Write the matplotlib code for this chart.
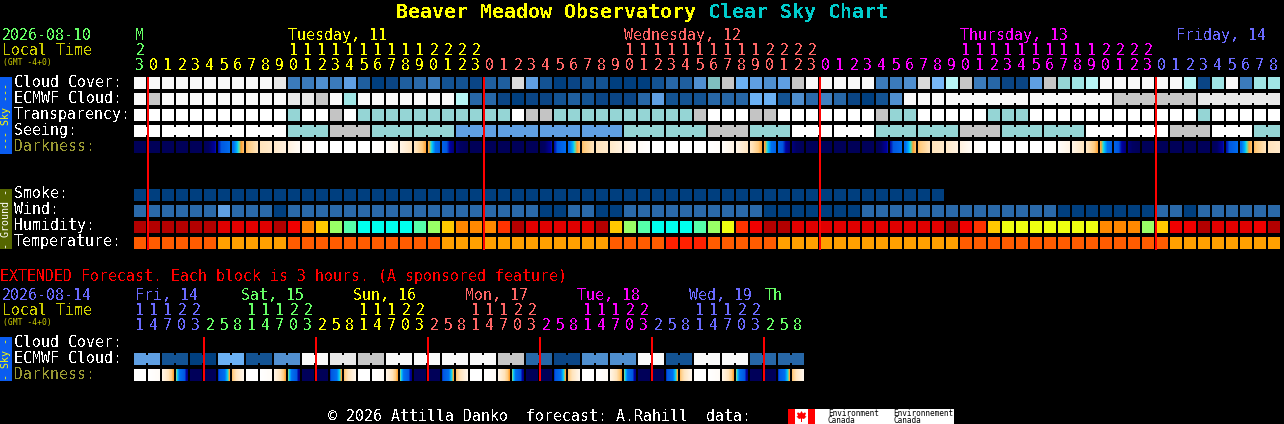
import numpy as np
import matplotlib
matplotlib.use("Agg")
import matplotlib.pyplot as plt
from matplotlib.colors import LinearSegmentedColormap

# ---------- data ----------
cloud_cover = [0,0,0,0,0,0,0,0,0,0,10,70,70,60,70,50,85,100,95,85,75,70,90,90,95,85,85,15,50,90,100,95,90,90,
               100,100,100,90,80,85,60,33,20,45,50,60,50,20,0,0,0,0,0,70,70,60,15,40,28,20,70,80,95,95,50,20,35,
               30,28,0,0,0,0,0,0,28,95,30,0,70,30,30]
ecmwf_cloud = [0,20,0,0,0,0,0,0,0,0,0,10,10,20,0,30,0,0,0,0,0,0,0,28,80,80,95,100,95,95,90,85,90,95,95,95,
               80,50,90,90,90,80,80,80,45,45,90,60,75,65,80,95,100,90,60,0,0,0,0,0,0,0,0,0,0,0,0,0,0,0,
               20,20,20,20,20,20,10,10,10,10,10,10]
transparency = [0,0,0,0,0,0,0,0,0,0,0,1,0,0,2,0,1,1,1,1,1,1,1,1,1,1,1,0,2,2,1,1,1,1,1,1,1,1,1,1,2,0,0,0,2,2,
                0,0,0,0,0,0,0,2,1,1,0,0,0,0,0,1,1,1,0,0,0,0,0,0,0,0,0,0,0,0,1,0,0,0,0,0]
seeing_blocks = [0,0,0,0,1,2,1,1,3,3,3,3,1,1,2,1,0,0,1,1,2,1,1,0,0,2,0,1]
seeing_sizes = [2,3,3,3,3,3,3,3,3,3,3,3,3,3,3,3,3,3,3,3,3,3,3,3,3,3,3,2]
darkness_edges = [.03,.03,.03,.03,.03,.04,.2,.36,.54,.66,.72,.82,.95,1,1,1,1,1,.97,.85,.68,.51,.30,.14,
                  .03,.03,.03,.03,.03,.04,.2,.36,.54,.66,.72,.82,.95,1,1,1,1,1,.97,.85,.68,.51,.30,.14,
                  .03,.03,.03,.03,.03,.04,.2,.36,.54,.66,.72,.82,.95,1,1,1,1,1,.97,.85,.68,.51,.30,.14,
                  .03,.03,.03,.03,.03,.04,.2,.36,.54,.66,.72]
smoke = [100]*58
wind = [75,75,75,75,75,75,50,75,75,75,100,75,75,75,75,75,75,75,75,75,75,75,75,75,75,75,75,75,75,100,100,75,75,
        100,100,75,75,75,75,75,75,75,75,75,75,100,100,100,100,100,100,100,75,75,75,75,75,75,75,75,75,75,75,75,
        75,75,100,100,100,100,100,100,100,75,75,100,75,75,75,75,75,75]
humidity = list("DDDDDDrrrrDROYGTCCCCTGYOOOoDrrrrrDYGTCCCTGLoRDDrrrrr"
                "rrrrrrDRoYLLLLLLLOOOGYRRDrrrRD")
temperature = list("MMMMMMHHHHHMMMMMMMMMMMHHHHHHHHHHHHMMMMRRRMMMMMHHHHHH"
                   "HHHHHHHMMMMMMMMMMMMMMMHHHHHHHH")
hours_main = [23] + list(range(24))*3 + list(range(9))
hour_owner = ["M"] + ["Tu"]*24 + ["We"]*24 + ["Th"]*24 + ["Fr"]*9
day_labels = [("M",135,"M"),("Tuesday, 11",288,"Tu"),("Wednesday, 12",624,"We"),
              ("Thursday, 13",960,"Th"),("Friday, 14",1176,"Fr")]

ext_hours = [11,14,17,20,23] + [2,5,8,11,14,17,20,23]*5 + [2,5,8]
ext_owner = ["Fr"]*5+["Sa"]*8+["Su"]*8+["Mo"]*8+["Tu"]*8+["Wd"]*8+["Tx"]*3
ext_labels = [("Fri, 14",135,"Fr"),("Sat, 15",241,"Sa"),("Sun, 16",353,"Su"),("Mon, 17",465,"Mo"),
              ("Tue, 18",577,"Tu"),("Wed, 19",689,"Wd"),("Th",765,"Tx")]
ext_ecmwf = [50,90,100,45,90,55,0,10,20,0,0,0,0,20,80,95,60,60,0,90,0,0,80,80]
ext_dark_start = [1,1,.85,.47,.04,.03,.22,.55]*6
ext_dark_end   = [1,.95,.5,.16,.03,.03,.5,.88]*6

# ---------- styles ----------
cloud_colors = {100:"#003F7F",95:"#0A4585",90:"#135393",85:"#1F5F9F",80:"#2767A7",75:"#2A69A9",70:"#3B7BBB",
                65:"#4080C0",60:"#4F8FCF",55:"#5290D0",50:"#5F9FE3",45:"#6BB1F4",40:"#77B7F7",33:"#7FBFBF",
                35:"#95D5D5",30:"#A0E5E5",28:"#B6F6F6",20:"#C6C6C6",15:"#DADADA",10:"#E8E8E8",0:"#F9F9F9"}
transp_colors = {0:"#FFFFFF",1:"#95D5D5",2:"#C4C4C4",3:"#5F9FE3"}
hum_colors = {"D":"#B30000","r":"#E00000","R":"#F00000","o":"#FF3300","O":"#FF8800","Y":"#FFC800",
              "G":"#99FF66","T":"#55FFAA","C":"#00FFEE","L":"#EEFF11"}
temp_colors = {"M":"#FF5C00","H":"#FFA000","R":"#FF2000"}
owner_colors = {"M":"#66FF66","Tu":"#FFFF00","We":"#FF6666","Th":"#FF00FF","Fr":"#6A6AFF"}
ext_colors = {"Fr":"#6A6AFF","Sa":"#66FF66","Su":"#FFFF00","Mo":"#FF6666","Tu":"#FF00FF","Wd":"#6A6AFF","Tx":"#66FF66"}
dark_cmap = LinearSegmentedColormap.from_list("dark", [
    (0,"#000055"),(.1,"#000062"),(.19,"#0000A0"),(.24,"#0058E0"),(.38,"#0070F0"),(.44,"#00C4FF"),
    (.465,"#50E0B0"),(.5,"#FFA030"),(.56,"#FFCC80"),(.66,"#FFE4BC"),(.82,"#FFF2E0"),(1,"#FFFFFF")])

plt.rcParams["font.family"] = "DejaVu Sans Mono"
plt.rcParams["text.antialiased"] = False
FS = 10.76
P, W = 14, 12
X0 = 134

fig = plt.figure(figsize=(12.84, 4.24), dpi=100, facecolor="black")
ax = fig.add_axes([0, 0, 1, 1], facecolor="black")
ax.set_axis_off()

def col_x(i):
    return X0 + P*i

def row(values, palette, y):
    xs = [col_x(i) for i in range(len(values))]
    ax.bar(xs, [W]*len(xs), width=W, bottom=y, align="edge", linewidth=0,
           color=[palette[v] for v in values], zorder=2)

def links(values, palette, y, pairs):
    xs = [col_x(i)+W for i in pairs]
    ax.bar(xs, [8]*len(xs), width=P-W, bottom=y+2, align="edge", linewidth=0,
           color=[palette[values[i]] for i in pairs], zorder=2)

def dark_row(starts, ends, y):
    for i, (a, b) in enumerate(zip(starts, ends)):
        ax.imshow(np.linspace(a, b, W)[None, :], extent=(col_x(i), col_x(i)+W, y+W, y), cmap=dark_cmap,
                  vmin=0, vmax=1, aspect="auto", interpolation="nearest", zorder=2)

def t(x, y, s, c="white", fs=FS, **k):
    return ax.text(x, y, s, color=c, fontsize=fs, va=k.pop("va", "baseline"), ha=k.pop("ha", "left"), **k)

# title
t(396, 18, "Beaver Meadow Observatory", "#FFFF00", 14.35, fontweight="bold")
t(708, 18, "Clear Sky Chart", "#00CCCC", 14.35, fontweight="bold")

# main header
t(2, 40, "2026-08-10", "#66FF66")
t(2, 55, "Local Time", "#CCCC00")
t(3, 65, "(GMT -4+0)", "#CCCC00", 5.8, antialiased=True)
for s, x, o in day_labels:
    t(x, 40, s, owner_colors[o])
for i, (h, o) in enumerate(zip(hours_main, hour_owner)):
    t(col_x(i)+6, 70, str(h % 10), owner_colors[o], ha="center")
    if h >= 10:
        t(col_x(i)+6, 55, str(h // 10), owner_colors[o], ha="center")

# sky rows
row(cloud_cover, cloud_colors, 77)
row(ecmwf_cloud, cloud_colors, 93)
links(ecmwf_cloud, cloud_colors, 93, [i for i in range(58, 81) if (i-58) % 6 != 5])
row(transparency, transp_colors, 109)
seeing = [v for v, n in zip(seeing_blocks, seeing_sizes) for _ in range(n)]
row(seeing, transp_colors, 125)
pairs, pos = [], 0
for n in seeing_sizes:
    pairs += list(range(pos, pos+n-1))
    pos += n
links(seeing, transp_colors, 125, pairs)
dark_row(darkness_edges[:-1], darkness_edges[1:], 141)

# ground rows
row(smoke, cloud_colors, 189)
row(wind, cloud_colors, 205)
row(humidity, hum_colors, 221)
row(temperature, temp_colors, 237)

# row labels
for y, s, c in [(87,"Cloud Cover:","w"),(103,"ECMWF Cloud:","w"),(119,"Transparency:","w"),(135,"Seeing:","w"),
                (151,"Darkness:","#999933"),(198,"Smoke:","w"),(214,"Wind:","w"),(230,"Humidity:","w"),
                (246,"Temperature:","w"),(347,"Cloud Cover:","w"),(363,"ECMWF Cloud:","w"),(379,"Darkness:","#999933")]:
    t(14, y, s, c)

# side tabs
ax.bar([0,0,0], [77,60,44], width=12, bottom=[77,189,337], align="edge", linewidth=0,
       color=["#0A5CF0","#556600","#0A5CF0"], zorder=2)
t(6, 116, "--- Sky ---", "#FFFF00", 7.2, rotation=90, va="center", ha="center", zorder=3, antialiased=True)
t(6, 219, "- Ground -", "white", 7.2, rotation=90, va="center", ha="center", zorder=3, antialiased=True)
t(6, 359, "- Sky -", "#FFFF00", 7.2, rotation=90, va="center", ha="center", zorder=3, antialiased=True)

# red day lines, main and extended
for bars in (ax.bar([147,483,819,1155], [173]*4, width=2, bottom=77, align="edge", linewidth=0,
                    color="#FF0000", zorder=4),
             ax.bar([203,315,427,539,651,763], [44]*6, width=2, bottom=337, align="edge", linewidth=0,
                    color="#FF0000", zorder=4)):
    for p in bars:
        p.set_snap(False)

# extended section
t(0, 281, "EXTENDED Forecast. Each block is 3 hours. (A sponsored feature)", "#FF0000")
t(2, 300, "2026-08-14", "#6A6AFF")
t(2, 315, "Local Time", "#CCCC00")
t(3, 325, "(GMT -4+0)", "#CCCC00", 5.8, antialiased=True)
for s, x, o in ext_labels:
    t(x, 300, s, ext_colors[o])
for i, (h, o) in enumerate(zip(ext_hours, ext_owner)):
    t(col_x(i)+6, 330, str(h % 10), ext_colors[o], ha="center")
    if h >= 10:
        t(col_x(i)+6, 315, str(h // 10), ext_colors[o], ha="center")
ext_cells = [v for v in ext_ecmwf for _ in range(2)]
row(ext_cells, cloud_colors, 353)
links(ext_cells, cloud_colors, 353, list(range(0, 47, 2)))
dark_row(ext_dark_start, ext_dark_end, 369)

# footer and logo
t(328, 421, "\u00a9 2026 Attilla Danko  forecast: A.Rahill  data:")
ax.bar([788,788,808], [15,15,15], width=[166,7,7], bottom=409, align="edge", linewidth=0,
       color=["white","#FF0000","#FF0000"], zorder=2)
leaf_x = np.array([801.5,800,798.5,797,798,796.5,799,801,801,802,802,804,806.5,805,806,804.5,803])
leaf_y = np.array([411,413.5,412.5,413,416,416.5,419,418.5,422,422,418.5,419,416.5,416,413,412.5,413.5])
ax.fill(leaf_x, leaf_y, color="#FF0000", linewidth=0, zorder=3)
for x, a, b in [(828, "Environment", "Canada"), (893, "Environnement", "Canada")]:
    t(x, 416, a, "black", 5.6, zorder=3, antialiased=True)
    t(x, 423, b, "black", 5.6, zorder=3, antialiased=True)

ax.set_xlim(0, 1284)
ax.set_ylim(424, 0)
fig.savefig("out.png", dpi=100, facecolor="black")
